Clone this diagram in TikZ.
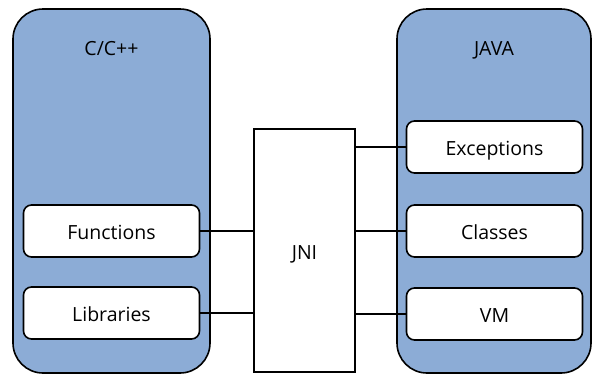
\documentclass[tikz,border=0pt]{standalone}
\usepackage{fontspec}
\setmainfont{Open Sans}
\definecolor{panelblue}{RGB}{140,172,214}
\tikzset{
  txt/.style={font=\fontsize{19.5}{22}\selectfont, text height=17pt, text depth=0pt},
  panel/.style={draw=black, line width=1.6pt, fill=panelblue, rounded corners=30pt},
  item/.style={draw=black, line width=1.6pt, fill=white, rounded corners=8pt,
    minimum width=176pt, minimum height=52pt, inner sep=0pt, txt},
  link/.style={draw=black, line width=1.3pt},
  title/.style={font=\fontsize{19.5}{22}\selectfont, inner sep=0pt, anchor=base}
}
\begin{document}
\begin{tikzpicture}[x=1pt, y=-1pt]
  \useasboundingbox (0,0) rectangle (594,376);
  % language panels
  \draw[panel] (13,9) rectangle (210,373);
  \draw[panel] (397,9) rectangle (591,373);
  \node[title] (ctitle) at (111.5,55) {C/C++};
  \node[title] (jtitle) at (494,55) {JAVA};
  % bridge
  \node[draw=black, line width=1.6pt, fill=white, minimum width=101pt, minimum height=243pt,
    inner sep=0pt, txt] (jni) at (304.5,250.5) {JNI};
  % native side
  \node[item] (func) at (111.5,231) {Functions};
  \node[item] (libs) at (111.5,313) {Libraries};
  % java side
  \node[item] (exc) at (494.5,147) {Exceptions};
  \node[item] (cls) at (494.5,231) {Classes};
  \node[item] (vm) at (494.5,314) {VM};
  % connections
  \draw[link] (func.east) -- (func.east -| jni.west);
  \draw[link] (libs.east) -- (libs.east -| jni.west);
  \draw[link] (exc.west) -- (exc.west -| jni.east);
  \draw[link] (cls.west) -- (cls.west -| jni.east);
  \draw[link] (vm.west) -- (vm.west -| jni.east);
\end{tikzpicture}
\end{document}
